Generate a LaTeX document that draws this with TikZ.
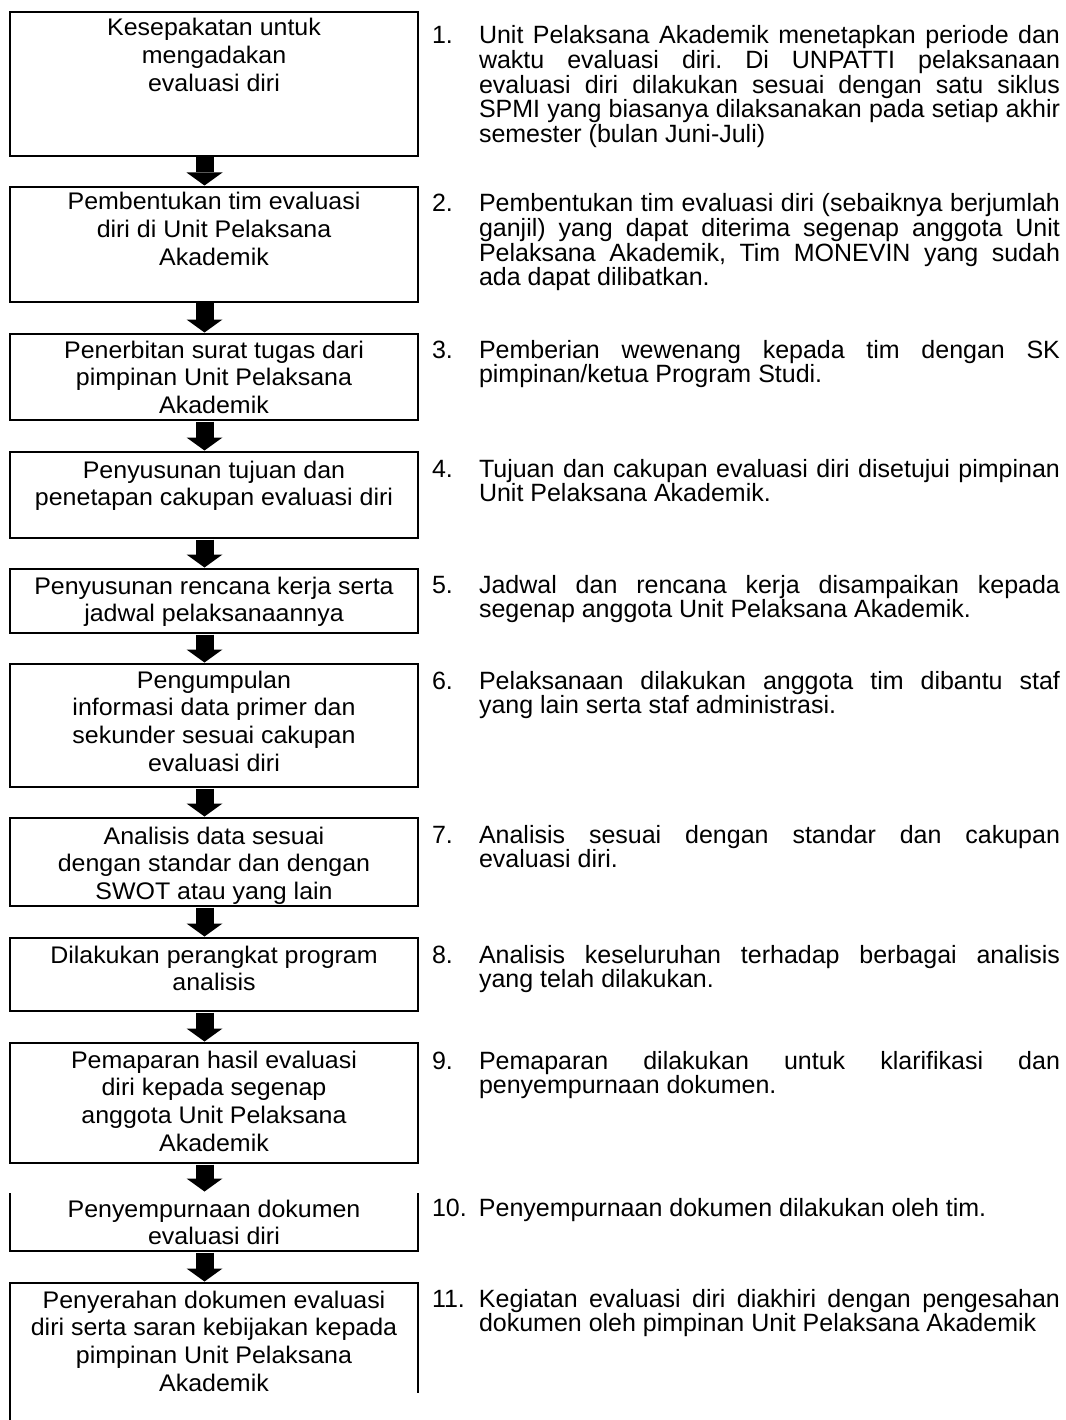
\documentclass[tikz,border=0pt]{standalone}
\usepackage{fontspec}
\setmainfont{Liberation Sans}
\newfontfamily\boxfont[FakeStretch=1.04]{Liberation Sans}
\newfontfamily\listfont{Liberation Sans}
\usetikzlibrary{arrows.meta,calc}
\newcommand\lbtext[1]{\parbox[t]{404pt}{\boxfont\fontsize{24}{27.8}\selectfont\lineskiplimit=-100pt\centering #1}}
\newcommand\rbtext[1]{\parbox[t]{640pt}{\listfont\fontsize{25}{24.6}\selectfont\lineskiplimit=-100pt\frenchspacing #1}}
\newcommand\jline[1]{\makebox[581pt][s]{#1}}
\newcommand\inum[1]{\makebox[47pt][l]{#1}}
\newcommand\iind{\hspace*{47pt}}
\begin{document}
\begin{tikzpicture}[x=1pt,y=-1pt,
  box/.style={rectangle, draw, line width=1.1pt, minimum width=408pt, inner sep=0pt, outer sep=0pt},
  ghostbox/.style={rectangle, minimum width=408pt, inner sep=0pt, outer sep=0pt},
  edge/.style={line width=1.1pt},
  blockarrow/.style={line width=18pt, -{Triangle[length=13pt,width=36pt,line width=0pt]}, shorten <=1.5pt, shorten >=1.5pt},
  lefttext/.style={anchor=base, inner sep=0pt, outer sep=0pt},
  righttext/.style={anchor=base west, inner sep=0pt, outer sep=0pt}]
\useasboundingbox (0,0) rectangle (1065,1420);
\fill[white] (0,0) rectangle (1065,1420);

% boxes
\node[box, minimum height=144pt] (b1) at (214,84) {};
\node[box, minimum height=115pt] (b2) at (214,244.5) {};
\node[box, minimum height=86pt] (b3) at (214,377) {};
\node[box, minimum height=86pt] (b4) at (214,495) {};
\node[box, minimum height=64pt] (b5) at (214,601) {};
\node[box, minimum height=123pt] (b6) at (214,725.5) {};
\node[box, minimum height=88pt] (b7) at (214,862) {};
\node[box, minimum height=73pt] (b8) at (214,974.5) {};
\node[box, minimum height=120pt] (b9) at (214,1103) {};
\node[ghostbox, minimum height=58pt] (b10) at (214,1222) {};
\draw[edge] (b10.north west) -- (b10.south west) -- (b10.south east) -- (b10.north east);
\node[ghostbox, minimum height=147pt] (b11) at (214,1356.5) {};
\draw[edge] (b11.south west) -- (b11.north west) -- (b11.north east) -- ($(b11.north east)+(0,110)$);

% left texts
\node[lefttext] (t1) at (214,36) {\lbtext{Kesepakatan untuk\\mengadakan\\evaluasi diri}};
\node[lefttext] (t2) at (214,210) {\lbtext{Pembentukan tim evaluasi\\diri di Unit Pelaksana\\Akademik}};
\node[lefttext] (t3) at (214,358) {\lbtext{Penerbitan surat tugas dari\\pimpinan Unit Pelaksana\\Akademik}};
\node[lefttext] (t4) at (214,478) {\lbtext{Penyusunan tujuan dan\\penetapan cakupan evaluasi diri}};
\node[lefttext] (t5) at (214,594) {\lbtext{Penyusunan rencana kerja serta\\jadwal pelaksanaannya}};
\node[lefttext] (t6) at (214,688) {\lbtext{Pengumpulan\\informasi data primer dan\\sekunder sesuai cakupan\\evaluasi diri}};
\node[lefttext] (t7) at (214,844) {\lbtext{Analisis data sesuai\\dengan standar dan dengan\\SWOT atau yang lain}};
\node[lefttext] (t8) at (214,963) {\lbtext{Dilakukan perangkat program\\analisis}};
\node[lefttext] (t9) at (214,1068) {\lbtext{Pemaparan hasil evaluasi\\diri kepada segenap\\anggota Unit Pelaksana\\Akademik}};
\node[lefttext] (t10) at (214,1217) {\lbtext{Penyempurnaan dokumen\\evaluasi diri}};
\node[lefttext] (t11) at (214,1308) {\lbtext{Penyerahan dokumen evaluasi\\diri serta saran kebijakan kepada\\pimpinan Unit Pelaksana\\Akademik}};

% arrows
\foreach \a/\b in {b1/b2,b2/b3,b3/b4,b4/b5,b5/b6,b6/b7,b7/b8,b8/b9,b9/b10,b10/b11}
  \draw[blockarrow] ([xshift=-9.5pt]\a.south) -- ([xshift=-9.5pt]\b.north);

% right texts
\node[righttext] (r1) at (432,44) {\rbtext{%
\inum{1.}\jline{Unit Pelaksana Akademik menetapkan periode dan}\\
\iind\jline{waktu evaluasi diri. Di UNPATTI pelaksanaan}\\
\iind\jline{evaluasi diri dilakukan sesuai dengan satu siklus}\\
\iind\jline{SPMI yang biasanya dilaksanakan pada setiap akhir}\\
\iind semester (bulan Juni-Juli)}};
\node[righttext] (r2) at (432,212) {\rbtext{%
\inum{2.}\jline{Pembentukan tim evaluasi diri (sebaiknya berjumlah}\\
\iind\jline{ganjil) yang dapat diterima segenap anggota Unit}\\
\iind\jline{Pelaksana Akademik, Tim MONEVIN yang sudah}\\
\iind ada dapat dilibatkan.}};
\node[righttext] (r3) at (432,358) {\rbtext{%
\inum{3.}\jline{Pemberian wewenang kepada tim dengan SK}\\
\iind pimpinan/ketua Program Studi.}};
\node[righttext] (r4) at (432,477) {\rbtext{%
\inum{4.}\jline{Tujuan dan cakupan evaluasi diri disetujui pimpinan}\\
\iind Unit Pelaksana Akademik.}};
\node[righttext] (r5) at (432,593) {\rbtext{%
\inum{5.}\jline{Jadwal dan rencana kerja disampaikan kepada}\\
\iind segenap anggota Unit Pelaksana Akademik.}};
\node[righttext] (r6) at (432,689) {\rbtext{%
\inum{6.}\jline{Pelaksanaan dilakukan anggota tim dibantu staf}\\
\iind yang lain serta staf administrasi.}};
\node[righttext] (r7) at (432,843) {\rbtext{%
\inum{7.}\jline{Analisis sesuai dengan standar dan cakupan}\\
\iind evaluasi diri.}};
\node[righttext] (r8) at (432,963) {\rbtext{%
\inum{8.}\jline{Analisis keseluruhan terhadap berbagai analisis}\\
\iind yang telah dilakukan.}};
\node[righttext] (r9) at (432,1069) {\rbtext{%
\inum{9.}\jline{Pemaparan dilakukan untuk klarifikasi dan}\\
\iind penyempurnaan dokumen.}};
\node[righttext] (r10) at (432,1216) {\rbtext{%
\inum{10.}Penyempurnaan dokumen dilakukan oleh tim.}};
\node[righttext] (r11) at (432,1307) {\rbtext{%
\inum{11.}\jline{Kegiatan evaluasi diri diakhiri dengan pengesahan}\\
\iind dokumen oleh pimpinan Unit Pelaksana Akademik}};
\end{tikzpicture}
\end{document}
